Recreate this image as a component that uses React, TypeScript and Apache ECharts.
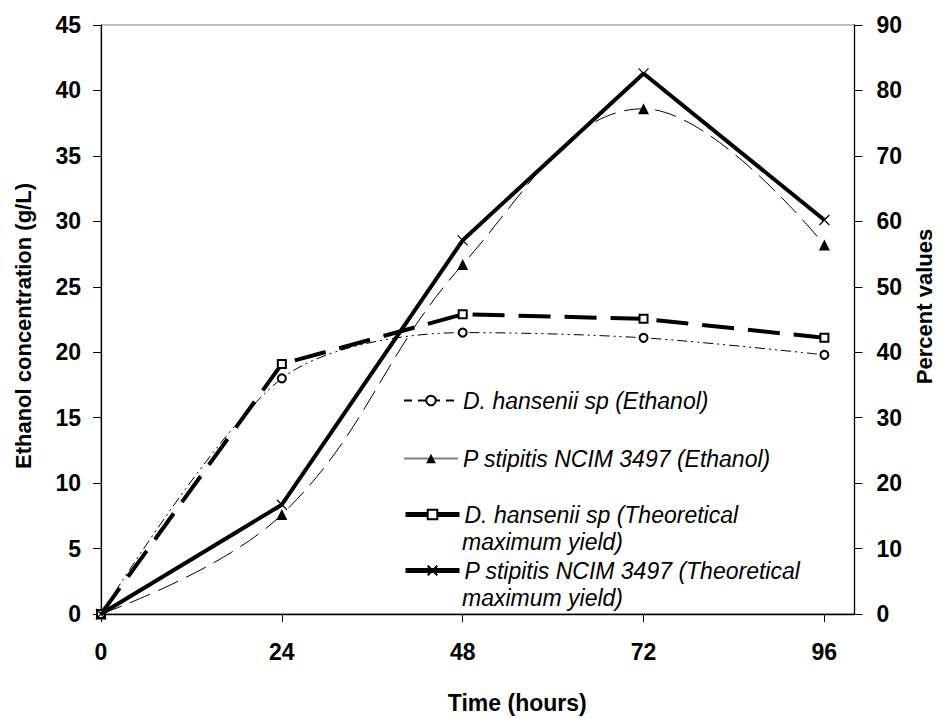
import React, { useEffect, useRef } from "react";
import * as echarts from "echarts";

const hours = [0, 24, 48, 72, 96];
const xTicks = [0, 24, 48, 72, 96];
const dHansEthanol = [0, 18.0, 21.5, 21.1, 19.8];
const pStipEthanol = [0, 7.6, 26.7, 38.6, 28.2];
const dHansTheo = [0, 38.2, 45.8, 45.1, 42.2];
const pStipTheo = [0, 16.7, 57.1, 82.6, 60.2];
const seriesNames = [
  "D. hansenii sp (Ethanol)",
  "P stipitis NCIM 3497 (Ethanol)",
  "D. hansenii sp (Theoretical\nmaximum yield)",
  "P stipitis NCIM 3497 (Theoretical\nmaximum yield)",
];

const FONT = "'Liberation Sans', Arial, sans-serif";

const pairs = (vals: number[]) => hours.map((h, i) => [h, vals[i]]);

export default function App() {
  const ref = useRef<HTMLDivElement>(null);
  useEffect(() => {
    document.body.style.margin = "0";
    const chart = echarts.init(ref.current!, null, { renderer: "svg" });
    const labelStyle = { fontFamily: FONT, fontWeight: "bold" as const, fontSize: 23, color: "#000" };
    const titleStyle = { fontFamily: FONT, fontWeight: "bold" as const, fontSize: 22, color: "#000" };
    const legendText = {
      fontFamily: FONT,
      fontStyle: "italic" as const,
      fontSize: 23,
      color: "#000",
    };
    const legendBase = {
      orient: "vertical" as const,
      left: 403,
      itemWidth: 54,
      itemHeight: 12,
      itemGap: 0,
      padding: 0,
      formatter: (name: string) => name.split("\n")[0],
      textStyle: legendText,
    };
    chart.setOption({
      animation: false,
      backgroundColor: "#fff",
      grid: {
        left: 101,
        right: 85,
        top: 25,
        bottom: 95,
        show: true,
        borderColor: "#808080",
        borderWidth: 1,
        containLabel: false,
      },
      xAxis: {
        type: "value",
        min: 0,
        max: 100,
        name: "Time (hours)",
        nameLocation: "middle",
        nameGap: 77,
        nameTextStyle: { ...labelStyle, padding: [0, 0, 0, 79] },
        axisLine: { show: true, lineStyle: { color: "#000", width: 1.3 } },
        axisTick: { show: true, length: 8, customValues: xTicks, lineStyle: { color: "#000" } },
        axisLabel: { ...labelStyle, margin: 26, customValues: xTicks },
        splitLine: { show: false },
      },
      yAxis: [
        {
          type: "value",
          min: 0,
          max: 45,
          interval: 5,
          name: "Ethanol concentration (g/L)",
          nameLocation: "middle",
          nameRotate: 90,
          nameGap: 67,
          nameTextStyle: { ...titleStyle, padding: [0, 13, 0, 0] },
          axisLine: { show: true, lineStyle: { color: "#000", width: 1.3 } },
          axisTick: { show: true, length: 8, lineStyle: { color: "#000" } },
          axisLabel: { ...labelStyle, margin: 20 },
          splitLine: { show: false },
        },
        {
          type: "value",
          min: 0,
          max: 90,
          interval: 10,
          position: "right",
          name: "Percent values",
          nameLocation: "middle",
          nameRotate: 90,
          nameGap: 50,
          nameTextStyle: { ...titleStyle, padding: [0, 0, 0, 26] },
          axisLine: { show: true, lineStyle: { color: "#000", width: 1.3 } },
          axisTick: { show: true, length: 8, lineStyle: { color: "#000" } },
          axisLabel: { ...labelStyle, margin: 22 },
          splitLine: { show: false },
        },
      ],
      legend: [
        {
          ...legendBase,
          top: 389,
          data: [seriesNames[0]],
          lineStyle: { type: [8, 6] },
        },
        {
          ...legendBase,
          top: 447,
          data: [seriesNames[1]],
          lineStyle: { type: "solid", color: "#808080" },
        },
        {
          ...legendBase,
          top: 503,
          data: [seriesNames[2]],
          lineStyle: { type: "solid", width: 5 },
        },
        {
          ...legendBase,
          top: 559,
          data: [seriesNames[3]],
          lineStyle: { type: "solid", width: 5 },
        },
      ],
      graphic: [
        {
          type: "text",
          left: 462,
          top: 530,
          style: { text: "maximum yield)", ...legendText, fill: "#000" },
        },
        {
          type: "text",
          left: 462,
          top: 586,
          style: { text: "maximum yield)", ...legendText, fill: "#000" },
        },
      ],
      series: [
        {
          name: seriesNames[0],
          type: "line",
          yAxisIndex: 0,
          data: pairs(dHansEthanol),
          smooth: 0.3,
          symbol: "emptyCircle",
          symbolSize: 8,
          lineStyle: { color: "#000", width: 1, type: [10, 4, 2, 4, 2, 4] },
          itemStyle: { color: "#000", borderColor: "#000", borderWidth: 1 },
          z: 2,
        },
        {
          name: seriesNames[1],
          type: "line",
          yAxisIndex: 0,
          data: pairs(pStipEthanol),
          smooth: 0.4,
          symbol: "triangle",
          symbolSize: 11,
          lineStyle: { color: "#000", width: 1, type: [22, 9] },
          itemStyle: { color: "#000" },
          z: 2,
        },
        {
          name: seriesNames[2],
          type: "line",
          yAxisIndex: 1,
          data: pairs(dHansTheo),
          symbol: "emptyRect",
          symbolSize: 8,
          lineStyle: { color: "#000", width: 4, type: [32, 14] },
          itemStyle: { color: "#000", borderColor: "#000", borderWidth: 1 },
          z: 3,
        },
        {
          name: seriesNames[3],
          type: "line",
          yAxisIndex: 1,
          data: pairs(pStipTheo),
          symbol: "path://M0,0L10,10M10,0L0,10",
          symbolSize: 10,
          lineStyle: { color: "#000", width: 4, type: "solid" },
          itemStyle: { color: "none", borderColor: "#000", borderWidth: 1.2 },
          z: 4,
        },
      ],
    });
    return () => chart.dispose();
  }, []);
  return <div ref={ref} style={{ width: 943, height: 719 }} />;
}
